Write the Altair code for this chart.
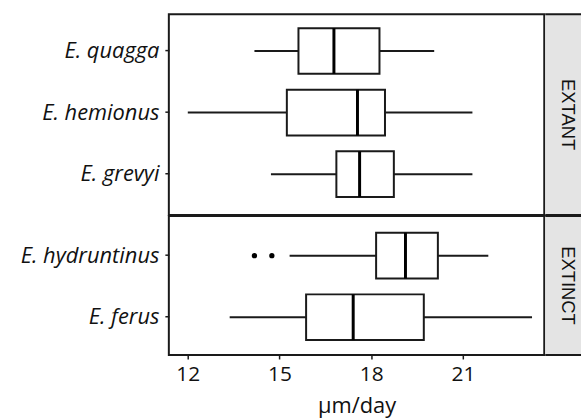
import altair as alt
import pandas as pd

species = ["E. quagga", "E. hemionus", "E. grevyi", "E. hydruntinus", "E. ferus"]
groups = ["EXTANT", "EXTANT", "EXTANT", "EXTINCT", "EXTINCT"]
whisker_lo = [14.18, 12.0, 14.72, 15.33, 13.37]
q1 = [15.62, 15.24, 16.86, 18.16, 15.87]
median = [16.78, 17.55, 17.62, 19.12, 17.41]
q3 = [18.27, 18.45, 18.74, 20.18, 19.72]
whisker_hi = [20.06, 21.31, 21.31, 21.83, 23.26]
outlier_species = ["E. hydruntinus", "E. hydruntinus"]
outlier_values = [14.18, 14.75]
x_ticks = [12, 15, 18, 21]
x_domain = [11.38, 23.66]

LINE = "#1a1a1a"
LABEL_FONT = "Open Sans"

box_df = pd.DataFrame({
    "species": species, "group": groups, "lo": whisker_lo, "q1": q1,
    "median": median, "q3": q3, "hi": whisker_hi,
})
out_df = pd.DataFrame({"species": outlier_species, "value": outlier_values})
out_df["group"] = "EXTINCT"

W = 378
BOX = 46


def panel(grp, height, show_x, band_align):
    sp = [s for s, g in zip(species, groups) if g == grp]
    y = alt.Y("species:N", sort=sp,
              scale=alt.Scale(domain=sp, paddingInner=0, paddingOuter=0.129,
                              align=band_align),
              axis=alt.Axis(title=None, domain=False, tickSize=4, tickWidth=1.5,
                            tickColor=LINE, labelFont=LABEL_FONT,
                            labelFontStyle="italic", labelFontSize=22,
                            labelColor="#111111", labelPadding=6))
    if show_x:
        xax = alt.Axis(title="μm/day", values=x_ticks, domain=False, grid=False,
                       tickSize=4, tickWidth=1.5, tickColor=LINE,
                       labelFont=LABEL_FONT, labelFontSize=21, labelColor="#111111",
                       labelPadding=5, titleFont=LABEL_FONT, titleFontSize=22,
                       titleFontWeight="normal", titleColor="#111111", titlePadding=11)
    else:
        xax = None
    xs = alt.Scale(domain=x_domain, nice=False, zero=False)
    base = alt.Chart(box_df[box_df["group"] == grp])
    whisk = base.mark_rule(color=LINE, strokeWidth=2).encode(
        x=alt.X("lo:Q", scale=xs, axis=xax), x2="hi:Q", y=y)
    box = base.mark_bar(fill="white", stroke=LINE, strokeWidth=2, size=BOX,
                        opacity=1).encode(
        x=alt.X("q1:Q", scale=xs), x2="q3:Q", y=y)
    med = base.mark_tick(color="#000000", thickness=3, size=BOX, opacity=1).encode(
        x=alt.X("median:Q", scale=xs), y=y)
    layers = [whisk, box, med]
    odf = out_df[out_df["group"] == grp]
    if len(odf):
        pts = alt.Chart(odf).mark_circle(color="black", opacity=1, size=28).encode(
            x=alt.X("value:Q", scale=xs), y=y)
        layers.append(pts)
    return alt.layer(*layers).properties(width=W, height=height)


def strip(grp, height):
    df = pd.DataFrame({"group": [grp]})
    base = alt.Chart(df)
    top = base.mark_rule(color=LINE, strokeWidth=2).encode(
        x=alt.value(0), x2=alt.value(36), y=alt.value(0))
    bot = base.mark_rule(color=LINE, strokeWidth=2).encode(
        x=alt.value(0), x2=alt.value(36), y=alt.value(height))
    txt = base.mark_text(angle=90, font="Liberation Sans", fontSize=18.5,
                         align="center", baseline="middle", color="#111111").encode(
        x=alt.value(23), y=alt.value(height / 2), text="group:N")
    return alt.layer(top, bot, txt).properties(
        width=36, height=height,
        view=alt.ViewBackground(fill="#e4e4e4", strokeWidth=0, strokeOpacity=0))


left = alt.vconcat(panel("EXTANT", 202, False, 0.37),
                   panel("EXTINCT", 140, True, 0.56), spacing=-2)
right = alt.vconcat(strip("EXTANT", 202), strip("EXTINCT", 140), spacing=-2)

chart = alt.hconcat(left, right, spacing=-1).properties(
    padding={"left": 19, "top": 12, "right": 0, "bottom": 0},
    background="white",
).configure_view(stroke=LINE, strokeWidth=2)

chart.save("out.html", embed_options={"renderer": "svg", "actions": False})
